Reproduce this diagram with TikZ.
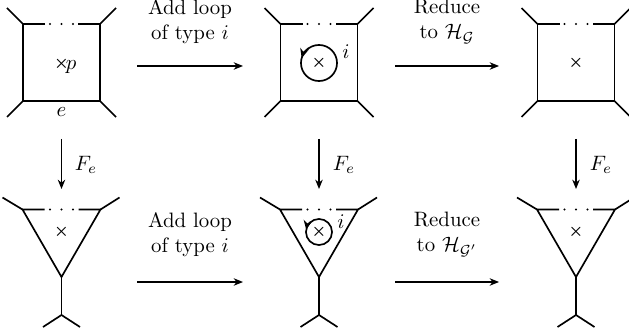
\documentclass[tikz,border=0pt]{standalone}
\usepackage{amsmath}
\usetikzlibrary{arrows.meta}
\begin{document}
\begin{tikzpicture}[x=0.48pt,y=-0.48pt,
  edge/.style={line width=0.8pt},
  arr/.style={line width=0.6pt,-{Stealth[length=4.5pt,width=3.6pt]}},
  lbl/.style={align=center,inner sep=0pt},
  xmark/.style={inner sep=0pt,font=\scriptsize},
  pics/sqbox/.style={code={
    \draw[edge] (-16.5,-38.5) -- (-38.5,-38.5) -- (-38.5,38.5) -- (38.5,38.5) -- (38.5,-38.5) -- (16.5,-38.5);
    \foreach \d in {-11.5,0,11.5} \fill (\d,-38.5) circle[radius=1.2];
    \draw[edge] (-38.5,-38.5) -- ++(-16,-16);
    \draw[edge] (38.5,-38.5) -- ++(16,-16);
    \draw[edge] (-38.5,38.5) -- ++(-16,16);
    \draw[edge] (38.5,38.5) -- ++(16,16);
  }},
  pics/tribox/.style={code={
    \draw[edge] (-17,0) -- (-39,0) -- (0,67.5) -- (39,0) -- (17,0);
    \foreach \d in {-11.5,0,11.5} \fill (\d,0) circle[radius=1.2];
    \draw[edge] (-39,0) -- ++(-20,-12);
    \draw[edge] (39,0) -- ++(19,-12);
    \draw[edge] (0,67.5) -- (0,105.5);
    \draw[edge] (0,105.5) -- ++(-18.5,12);
    \draw[edge] (0,105.5) -- ++(18.5,12);
  }}]
\useasboundingbox (0,0) rectangle (629,333);
\clip (0,0) rectangle (629,333);
% top row
\pic at (61.5,62.5) {sqbox};
\pic at (319,62.5) {sqbox};
\pic at (576,62.5) {sqbox};
\node[xmark] (x1) at (61.5,64) {$\boldsymbol{\times}$};
\node[inner sep=0pt] (p1) at (71,67.5) {$p$};
\node[inner sep=0pt] (e1) at (61.5,112) {$e$};
\node[draw,circle,line width=0.8pt,minimum size=17.3pt,inner sep=0pt] (loopA) at (319,63) {};
\node[xmark] (x2) at (319,63) {$\boldsymbol{\times}$};
\draw[line width=0.8pt,-{Stealth[length=4.5pt,width=4pt]}] (319,63) ++(235:18) arc[start angle=235,end angle=196,radius=18];
\node[inner sep=0pt] (i1) at (346,52) {$i$};
\node[xmark] (x3) at (576,63) {$\boldsymbol{\times}$};
% top arrows
\coordinate (a1s) at (137,66); \coordinate (a1e) at (243,66);
\coordinate (a2s) at (395,66); \coordinate (a2e) at (499,66);
\draw[arr] (a1s) -- (a1e);
\draw[arr] (a2s) -- (a2e);
\node[lbl] (t1) at (190,21.5) {Add loop\\of type $i$};
\node[lbl] (t2) at (447,21.5) {Reduce\\to $\mathcal{H}_{\mathcal{G}}$};
% vertical arrows
\coordinate (v1s) at (61.5,139); \coordinate (v1e) at (61.5,189);
\coordinate (v2s) at (319,139); \coordinate (v2e) at (319,189);
\coordinate (v3s) at (576,139); \coordinate (v3e) at (576,189);
\draw[arr] (v1s) -- (v1e);
\draw[arr] (v2s) -- (v2e);
\draw[arr] (v3s) -- (v3e);
\node[inner sep=0pt] (f1) at (86,165) {$F_e$};
\node[inner sep=0pt] (f2) at (344,165) {$F_e$};
\node[inner sep=0pt] (f3) at (601,165) {$F_e$};
% bottom row
\pic at (61.5,209.5) {tribox};
\pic at (319,209.5) {tribox};
\pic at (576,209.5) {tribox};
\node[xmark] (x4) at (61.5,232) {$\boldsymbol{\times}$};
\node[draw,circle,line width=0.8pt,minimum size=12.5pt,inner sep=0pt] (loopB) at (319,232) {};
\node[xmark] (x5) at (319,232) {$\boldsymbol{\times}$};
\draw[line width=0.8pt,-{Stealth[length=4.5pt,width=4pt]}] (319,232) ++(230:13) arc[start angle=230,end angle=190,radius=13];
\node[inner sep=0pt] (i2) at (341,222) {$i$};
\node[xmark] (x6) at (576,232) {$\boldsymbol{\times}$};
% bottom arrows
\coordinate (b1s) at (137,282); \coordinate (b1e) at (243,282);
\coordinate (b2s) at (395,282); \coordinate (b2e) at (499,282);
\draw[arr] (b1s) -- (b1e);
\draw[arr] (b2s) -- (b2e);
\node[lbl] (t3) at (190,234.5) {Add loop\\of type $i$};
\node[lbl] (t4) at (447,234.5) {Reduce\\to $\mathcal{H}_{\mathcal{G}'}$};
\end{tikzpicture}
\end{document}
